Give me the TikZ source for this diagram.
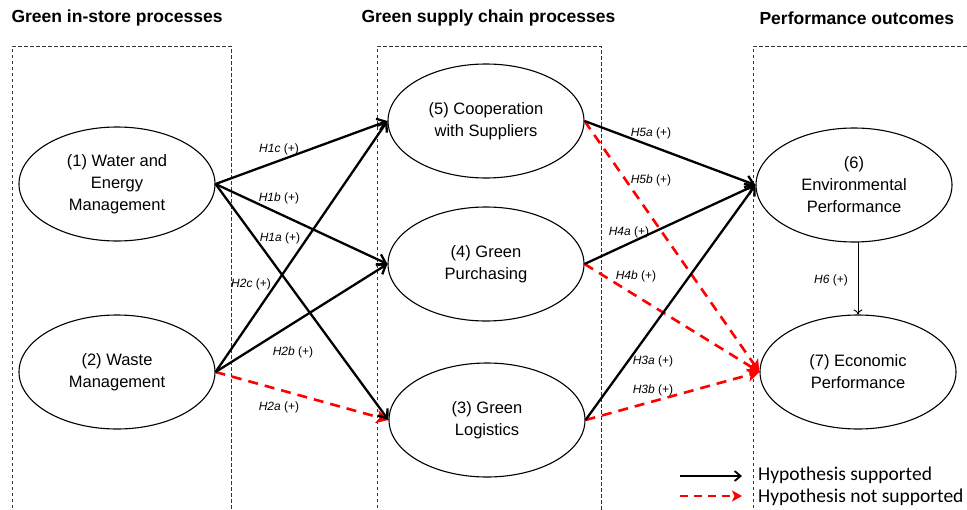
\documentclass[tikz,border=0pt]{standalone}
\usepackage{fontspec}
\setmainfont{Liberation Sans}
\newfontfamily\legendfont{Carlito}
\usetikzlibrary{arrows.meta,shapes.geometric}
\definecolor{hypred}{RGB}{255,0,0}
\begin{document}
\begin{tikzpicture}[x=1pt,y=-1pt,
  construct/.style={draw,line width=1.1pt,ellipse,minimum width=196pt,minimum height=114pt,
    inner sep=0pt,align=center,font=\fontsize{16.5}{22}\selectfont},
  groupbox/.style={draw,line width=0.9pt,dash pattern=on 3.5pt off 2.5pt,black!80},
  header/.style={font=\fontsize{17.5}{20}\selectfont\bfseries,anchor=west},
  supported/.style={line width=2.3pt,-{Straight Barb[length=8pt,width=12pt,line width=2.3pt]}},
  rejected/.style={line width=2.6pt,hypred,dash pattern=on 10pt off 7pt,
    -{Stealth[length=12pt,width=13pt,inset=3pt]}},
  hlabel/.style={font=\fontsize{12}{14}\selectfont,inner sep=1pt}]
\useasboundingbox (0,0) rectangle (967,509);

% column frames, open at the bottom
\draw[groupbox] (12,520) -- (12,46) -- (231,46) -- (231,520);
\draw[groupbox] (377,520) -- (377,46) -- (601,46) -- (601,520);
\draw[groupbox] (753,520) -- (753,46) -- (975,46);

% column headings
\node[header] (hd1) at (8,18) {Green in-store processes};
\node[header] (hd2) at (358,18) {Green supply chain processes};
\node[header] (hd3) at (756,18) {Performance outcomes};

% constructs
\node[construct] (n1) at (117,184) {(1) Water and\\Energy\\Management};
\node[construct] (n2) at (117,372) {(2) Waste\\Management};
\node[construct] (n5) at (486,121) {(5) Cooperation\\with Suppliers};
\node[construct] (n4) at (486,264) {(4) Green\\Purchasing};
\node[construct] (n3) at (487,420) {(3) Green\\Logistics};
\node[construct] (n6) at (854,185) {(6)\\Environmental\\Performance};
\node[construct] (n7) at (858,372) {(7) Economic\\Performance};

% hypothesised paths
\draw[rejected] (n2.east) -- (n3.west);
\draw[rejected] (n5.east) -- (n7.west);
\draw[rejected] (n4.east) -- (n7.west);
\draw[rejected] (n3.east) -- (n7.west);

\draw[supported] (n1.east) -- (n5.west);
\draw[supported] (n1.east) -- (n4.west);
\draw[supported] (n1.east) -- (n3.west);
\draw[supported] (n2.east) -- (n5.west);
\draw[supported] (n2.east) -- (n4.west);
\draw[supported] (n5.east) -- (n6.west);
\draw[supported] (n4.east) -- (n6.west);
\draw[supported] (n3.east) -- (n6.west);
\draw[line width=0.9pt,-{To[length=5pt,width=9pt]}] (858,242) -- (n7.north);

% path labels
\node[hlabel] (l1c) at (279,149) {\textit{H1c} (+)};
\node[hlabel] (l1b) at (279,198) {\textit{H1b} (+)};
\node[hlabel] (l1a) at (280,238) {\textit{H1a} (+)};
\node[hlabel] (l2c) at (251,284) {\textit{H2c} (+)};
\node[hlabel] (l2b) at (293,352) {\textit{H2b} (+)};
\node[hlabel] (l2a) at (279,407) {\textit{H2a} (+)};
\node[hlabel] (l5a) at (651,133) {\textit{H5a} (+)};
\node[hlabel] (l5b) at (651,180) {\textit{H5b} (+)};
\node[hlabel] (l4a) at (629,232) {\textit{H4a} (+)};
\node[hlabel] (l4b) at (636,276) {\textit{H4b} (+)};
\node[hlabel] (l3a) at (653,361) {\textit{H3a} (+)};
\node[hlabel] (l3b) at (653,390) {\textit{H3b} (+)};
\node[hlabel] (l6) at (831,280) {\textit{H6} (+)};

% legend
\coordinate (k1s) at (680,476);
\coordinate (k1e) at (742,476);
\coordinate (k2s) at (680,496);
\coordinate (k2e) at (742,496);
\draw[line width=1.8pt,-{Straight Barb[length=6pt,width=10pt,line width=1.8pt]}] (k1s) -- (k1e);
\draw[line width=2.2pt,hypred,dash pattern=on 8pt off 6pt,-{Stealth[length=10pt,width=11pt,inset=2.5pt]}] (k2s) -- (k2e);
\node[anchor=west,inner sep=0pt,font=\legendfont\fontsize{19.5}{22}\selectfont] (t1) at (758,475) {Hypothesis supported};
\node[anchor=west,inner sep=0pt,font=\legendfont\fontsize{19.5}{22}\selectfont] (t2) at (758,497) {Hypothesis not supported};
\end{tikzpicture}
\end{document}
